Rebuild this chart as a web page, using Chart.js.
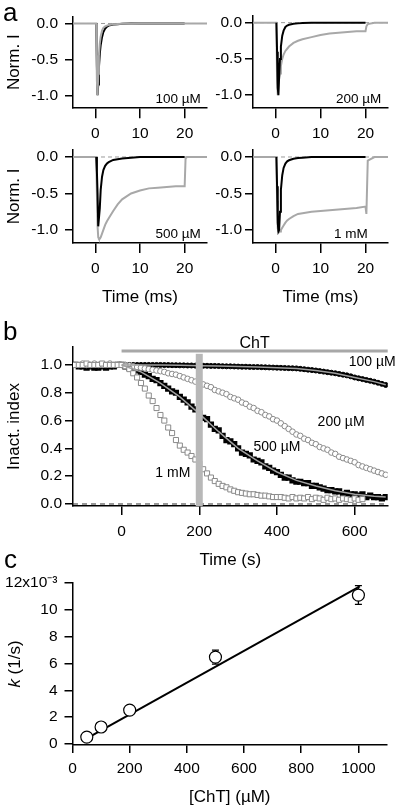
<!DOCTYPE html>
<html>
<head>
<meta charset="utf-8">
<title>ChT inactivation</title>
<script src="https://cdn.jsdelivr.net/npm/chart.js@4.4.1/dist/chart.umd.min.js"></script>
<style>
  html, body { margin: 0; padding: 0; background: #fff; }
  #fig { position: relative; width: 400px; height: 812px; overflow: hidden;
         font-family: 'Liberation Sans', Arial, sans-serif; }
  #fig canvas { position: absolute; }
  .tag { position: absolute; font-size: 26px; line-height: 26px; color: #000; }
</style>
</head>
<body>
<div id="fig">
  <canvas id="a1" width="215" height="150" style="left:0px;top:0px"></canvas>
  <canvas id="a2" width="195" height="150" style="left:205px;top:0px"></canvas>
  <canvas id="a3" width="215" height="187" style="left:0px;top:125px"></canvas>
  <canvas id="a4" width="195" height="187" style="left:205px;top:125px"></canvas>
  <canvas id="b" width="400" height="285" style="left:0px;top:290px"></canvas>
  <canvas id="c" width="400" height="257" style="left:0px;top:555px"></canvas>
  <div class="tag" style="left:3px;top:-1px">a</div>
  <div class="tag" style="left:3px;top:318px">b</div>
  <div class="tag" style="left:4px;top:546px">c</div>
</div>
<script>
// ---- panel a: normalised currents (ms) ----
const traceT = [-5, 0.2, 0.35, 0.5, 0.65, 0.8, 1.0, 1.2, 1.5, 1.8, 2.2, 2.6, 3, 4, 5, 6, 8, 10, 12, 14, 16, 18, 20, 20.2, 20.5, 22, 25];
const black100 = [null, 0, -0.6, -1.0, -0.85, -0.62, -0.42, -0.3, -0.19, -0.12, -0.07, -0.045, -0.03, -0.015, -0.01, -0.005, 0, 0, 0, 0, 0, 0, 0, null, null, null, null];
const gray100 = [0, 0, -0.8, -1.0, -0.7, -0.45, -0.28, -0.18, -0.1, -0.06, -0.04, -0.03, -0.02, -0.012, -0.008, -0.005, -0.003, 0, 0, 0, 0, 0, 0, 0, 0, 0, 0];
const black200 = [null, 0, -0.4, -0.9, -1.0, -0.75, -0.5, -0.33, -0.18, -0.11, -0.06, -0.04, -0.03, -0.015, -0.01, -0.005, 0, 0, 0, 0, 0, 0, 0, null, null, null, null];
const gray200 = [0, 0, -0.8, -1.0, -0.85, -0.78, -0.7, -0.6, -0.5, -0.44, -0.39, -0.36, -0.33, -0.28, -0.25, -0.23, -0.2, -0.17, -0.15, -0.14, -0.13, -0.12, -0.12, -0.05, -0.02, 0, 0];
const black500 = [null, 0, -0.2, -0.5, -0.95, -0.95, -0.7, -0.45, -0.27, -0.18, -0.12, -0.09, -0.07, -0.04, -0.03, -0.02, -0.01, 0, 0, 0, 0, 0, 0, null, null, null, null];
const gray500 = [0, 0, -0.5, -0.95, -1.1, -1.12, -1.12, -1.1, -1.05, -1.0, -0.93, -0.88, -0.84, -0.74, -0.65, -0.58, -0.5, -0.46, -0.43, -0.42, -0.41, -0.40, -0.40, -0.02, 0, 0, 0];
const black1mM = [null, 0, -0.4, -0.9, -1.02, -1.0, -0.75, -0.45, -0.25, -0.15, -0.09, -0.06, -0.045, -0.025, -0.015, -0.01, 0, 0, 0, 0, 0, 0, 0, null, null, null, null];
const gray1mM = [0, 0, -0.6, -0.98, -1.02, -1.03, -1.02, -1.0, -0.97, -0.94, -0.9, -0.87, -0.85, -0.81, -0.78, -0.77, -0.75, -0.74, -0.73, -0.72, -0.71, -0.70, -0.68, -0.78, -0.05, 0, 0];
const concLabels = ['100 µM', '200 µM', '500 µM', '1 mM'];
const currentTicks = [-1.0, -0.5, 0];
const msTicks = [0, 10, 20];

// ---- panel b: inactivation index vs time (s) ----
const timeS = [-120, -110, -100, -90, -80, -70, -60, -50, -40, -30, -20, -10, 0,
  10, 20, 30, 40, 50, 60, 70, 80, 90, 100,
  110, 120, 130, 140, 150, 160, 170, 180, 190, 200,
  210, 220, 230, 240, 250, 260, 270, 280, 290, 300,
  310, 320, 330, 340, 350, 360, 370, 380, 390, 400,
  410, 420, 430, 440, 450, 460, 470, 480, 490, 500,
  510, 520, 530, 540, 550, 560, 570, 580, 590, 600,
  610, 620, 630, 640, 650, 660, 670, 680];
const inact100 = [1.0, 1.0, 1.0, 1.0, 1.0, 1.0, 1.0, 1.0, 1.0, 1.0, 1.0, 1.0, 1.0,
  1.0, 1.0, 1.0, 1.0, 1.0, 1.0, 1.0, 1.0, 1.0, 1.0,
  0.999, 0.999, 0.998, 0.998, 0.997, 0.997, 0.996, 0.996, 0.995, 0.995,
  0.994, 0.994, 0.993, 0.993, 0.992, 0.991, 0.99, 0.99, 0.989, 0.988,
  0.987, 0.987, 0.986, 0.985, 0.985, 0.984, 0.983, 0.982, 0.981, 0.98,
  0.979, 0.978, 0.977, 0.976, 0.975, 0.972, 0.969, 0.966, 0.963, 0.96,
  0.956, 0.952, 0.948, 0.944, 0.94, 0.935, 0.93, 0.925, 0.918, 0.91,
  0.904, 0.898, 0.892, 0.886, 0.88, 0.872, 0.864, 0.856];
const inact200 = [1.0, 1.0, 1.01, 1.0, 1.0, 1.01, 1.0, 1.0, 1.0, 1.01, 1.0, 1.0, 1.0,
  1.0, 0.995, 0.99, 0.985, 0.98, 0.975, 0.97, 0.965, 0.96, 0.955,
  0.95, 0.94, 0.935, 0.93, 0.92, 0.91, 0.90, 0.89, 0.88, 0.87,
  0.86, 0.85, 0.84, 0.82, 0.81, 0.80, 0.79, 0.77, 0.76, 0.75,
  0.73, 0.72, 0.70, 0.69, 0.67, 0.66, 0.64, 0.63, 0.61, 0.60,
  0.58, 0.56, 0.54, 0.52, 0.50, 0.49, 0.47, 0.46, 0.44, 0.43,
  0.41, 0.40, 0.39, 0.37, 0.36, 0.34, 0.33, 0.32, 0.31, 0.30,
  0.28, 0.27, 0.26, 0.25, 0.24, 0.23, 0.22, 0.21];
const inact500 = [1.0, 0.99, 0.99, 0.98, 0.99, 0.98, 0.98, 0.99, 0.98, 0.99, 0.99, 1.0, 1.0,
  0.99, 0.98, 0.97, 0.96, 0.95, 0.93, 0.92, 0.90, 0.89, 0.87,
  0.85, 0.83, 0.81, 0.80, 0.77, 0.75, 0.73, 0.70, 0.68, 0.65,
  0.62, 0.61, 0.57, 0.54, 0.53, 0.49, 0.46, 0.45, 0.43, 0.40,
  0.37, 0.36, 0.35, 0.32, 0.31, 0.30, 0.27, 0.26, 0.24, 0.23,
  0.21, 0.19, 0.19, 0.17, 0.16, 0.16, 0.15, 0.15, 0.13, 0.13,
  0.12, 0.11, 0.10, 0.10, 0.09, 0.09, 0.07, 0.08, 0.07, 0.07,
  0.06, 0.07, 0.05, 0.06, 0.05, 0.05, 0.04, 0.05];
const inact1mM = [1.0, 1.0, 1.0, 1.01, 1.0, 1.0, 1.0, 1.01, 1.0, 1.0, 1.0, 1.0, 1.0,
  0.99, 0.97, 0.94, 0.91, 0.87, 0.83, 0.78, 0.74, 0.69, 0.64,
  0.60, 0.55, 0.51, 0.46, 0.42, 0.39, 0.37, 0.345, 0.32, 0.29,
  0.25, 0.22, 0.19, 0.165, 0.145, 0.13, 0.12, 0.105, 0.095, 0.085,
  0.08, 0.075, 0.07, 0.07, 0.065, 0.06, 0.06, 0.055, 0.05, 0.05,
  0.05, 0.045, 0.04, 0.05, 0.04, 0.045, 0.04, 0.05, 0.035, 0.045,
  0.04, 0.03, 0.045, 0.035, 0.04, 0.03, 0.04, 0.035, 0.03, 0.04,
  0.03, 0.035, null, null, null, null, null, null];
const fitTimeS = [0, 50, 100, 150, 200, 250, 300, 350, 400, 450, 500, 550, 600, 650, 680];
const fit100 = [1.0, 1.0, 1.0, 0.997, 0.995, 0.992, 0.988, 0.985, 0.98, 0.975, 0.96, 0.94, 0.91, 0.88, 0.858];
const fit500 = [1.0, 0.95, 0.87, 0.77, 0.65, 0.52, 0.40, 0.31, 0.23, 0.17, 0.13, 0.095, 0.07, 0.055, 0.05];
const inactTicks = [0, 0.2, 0.4, 0.6, 0.8, 1.0];
const sTicks = [0, 200, 400, 600];
const chtStart = 0;      // ChT application (s)
const chtLevel = 1.10;   // height of the ChT bar
const markTime = 200;    // time of the traces shown in a

// ---- panel c: rate constant vs [ChT] ----
const chtConc = [50, 100, 200, 500, 1000];
const kRate = [0.52, 1.27, 2.53, 6.48, 11.1];     // x10^-3 1/s
const kErr = [0.1, 0.15, 0.2, 0.52, 0.7];
const fitConc = [50, 1005];
const fitK = [0.43, 11.75];
const kTicks = [0, 2, 4, 6, 8, 10, 12];
const concTicks = [0, 200, 400, 600, 800, 1000];

const FONT = "'Liberation Sans', Arial, sans-serif";
Chart.defaults.font.family = FONT;
Chart.defaults.color = '#000';

const pts = (xs, ys) => xs.map((x, i) => ({ x: x, y: ys[i] })).filter(p => p.y !== null);

function axis(o) {
  return {
    type: 'linear',
    min: o.min,
    max: o.max,
    afterBuildTicks: s => { s.ticks = o.ticks.map(v => ({ value: v })); },
    afterFit: s => { if (s.isHorizontal()) s.height = o.size; else s.width = o.size; },
    ticks: { font: { size: 15.5 }, color: '#000', padding: o.pad, autoSkip: false, maxRotation: 0,
             callback: o.fmt || (v => String(v)) },
    grid: { display: true, drawOnChartArea: false, drawTicks: true, tickLength: o.tick,
            color: '#000', lineWidth: 1.5 },
    border: { display: true, color: '#000', width: 1.5 },
    title: { display: !!o.title, text: o.title || '', font: { size: 17 }, color: '#000',
             padding: { top: 4, bottom: 4 } }
  };
}

const base = {
  responsive: false, animation: false, devicePixelRatio: 1, events: [],
  plugins: { legend: { display: false }, tooltip: { enabled: false } }
};

// panel a
const panelsA = [
  { id: 'a1', black: black100, gray: gray100, label: concLabels[0], labelT: 23.6, grayTop: true,
    top: 15.4, right: 8, yw: 73, xh: 41.8, ypad: 7, ytitle: 'Norm. I' },
  { id: 'a2', black: black200, gray: gray200, label: concLabels[1], labelT: 23.5,
    top: 15.4, right: 12, yw: 48, xh: 41.8, ypad: 3 },
  { id: 'a3', black: black500, gray: gray500, label: concLabels[2], labelT: 23.6,
    top: 24.7, right: 8, yw: 73, xh: 68.9, ypad: 7, ytitle: 'Norm. I', xtitle: 'Time (ms)' },
  { id: 'a4', black: black1mM, gray: gray1mM, label: concLabels[3], labelT: 20.5,
    top: 24.7, right: 12, yw: 48, xh: 68.9, ypad: 3, xtitle: 'Time (ms)' }
];

panelsA.forEach(p => {
  const blackSet = { data: pts(traceT, p.black), borderColor: '#000', borderWidth: 2, pointRadius: 0, showLine: true };
  const graySet = { data: pts(traceT, p.gray), borderColor: '#a8a8a8', borderWidth: 2, pointRadius: 0, showLine: true };
  new Chart(document.getElementById(p.id), {
    type: 'scatter',
    data: { datasets: p.grayTop ? [graySet, blackSet] : [blackSet, graySet] },
    options: Object.assign({}, base, {
      layout: { padding: { left: 0, top: p.top, right: p.right, bottom: 0 } },
      scales: {
        x: axis({ min: -5, max: 25, ticks: msTicks, size: p.xh, tick: 10, pad: 6, title: p.xtitle }),
        y: axis({ min: -1.18, max: 0.1, ticks: currentTicks, size: p.yw, tick: 8, pad: p.ypad,
                  fmt: v => v.toFixed(1), title: p.ytitle })
      }
    }),
    plugins: [{
      id: 'traceDecor',
      beforeDatasetsDraw(chart) {
        const { ctx, chartArea: a, scales: { y } } = chart;
        const py = y.getPixelForValue(0);
        ctx.save();
        ctx.strokeStyle = '#9a9a9a'; ctx.lineWidth = 1; ctx.setLineDash([4, 3]);
        ctx.beginPath(); ctx.moveTo(a.left, py); ctx.lineTo(a.right, py); ctx.stroke();
        ctx.restore();
      },
      afterDatasetsDraw(chart) {
        const { ctx, scales: { x, y } } = chart;
        ctx.save();
        ctx.font = '13.5px ' + FONT;
        ctx.fillStyle = '#000'; ctx.textAlign = 'right'; ctx.textBaseline = 'middle';
        ctx.fillText(p.label, x.getPixelForValue(p.labelT), y.getPixelForValue(-1.06));
        ctx.restore();
      }
    }]
  });
});

// panel b
const bLabels = [
  { text: concLabels[0], t: 645, v: 1.02 },
  { text: concLabels[1], t: 565, v: 0.59 },
  { text: concLabels[2], t: 400, v: 0.41 },
  { text: concLabels[3], t: 132, v: 0.22 }
];

new Chart(document.getElementById('b'), {
  type: 'scatter',
  data: {
    datasets: [
      { data: pts(fitTimeS, fit500), showLine: true, borderColor: '#a0a0a0', borderWidth: 1.5, pointRadius: 0 },
      { data: pts(fitTimeS, fit100), showLine: true, borderColor: '#a0a0a0', borderWidth: 1.5, pointRadius: 0 },
      { data: pts(timeS, inact1mM), pointStyle: 'rect', pointRadius: 3.6, backgroundColor: '#fff', borderColor: '#8a8a8a', borderWidth: 1 },
      { data: pts(timeS, inact200), pointStyle: 'circle', pointRadius: 2.8, backgroundColor: '#fff', borderColor: '#8a8a8a', borderWidth: 1 },
      { data: pts(timeS, inact100), pointStyle: 'circle', pointRadius: 2.5, backgroundColor: '#000', borderColor: '#000', borderWidth: 1 },
      { data: pts(timeS, inact500), pointStyle: 'rect', pointRadius: 4.4, backgroundColor: '#000', borderColor: '#000', borderWidth: 0 }
    ]
  },
  options: Object.assign({}, base, {
    layout: { padding: { left: 0, top: 57, right: 12.3, bottom: 0 } },
    scales: {
      x: axis({ min: -125, max: 685, ticks: sTicks, size: 69, tick: 9, pad: 7, title: 'Time (s)' }),
      y: axis({ min: -0.0144, max: 1.129, ticks: inactTicks, size: 73, tick: 8, pad: 3,
                fmt: v => v.toFixed(1), title: 'Inact. index' })
    }
  }),
  plugins: [{
    id: 'bDecor',
    beforeDatasetsDraw(chart) {
      const { ctx, chartArea: a, scales: { y } } = chart;
      const py = y.getPixelForValue(0);
      ctx.save();
      ctx.strokeStyle = '#333'; ctx.lineWidth = 1; ctx.setLineDash([5, 4]);
      ctx.beginPath(); ctx.moveTo(a.left, py); ctx.lineTo(a.right, py); ctx.stroke();
      ctx.restore();
    },
    afterDatasetsDraw(chart) {
      const { ctx, chartArea: a, scales: { x, y } } = chart;
      ctx.save();
      // exposure marker at the time shown in a
      const px = x.getPixelForValue(markTime);
      ctx.fillStyle = '#b8b8b8';
      ctx.fillRect(px - 3.5, y.getPixelForValue(1.08), 7, a.bottom - y.getPixelForValue(1.08));
      // ChT application bar
      const x0 = x.getPixelForValue(chtStart), yb = y.getPixelForValue(chtLevel);
      ctx.strokeStyle = '#a8a8a8'; ctx.lineWidth = 3;
      ctx.beginPath(); ctx.moveTo(x0, yb); ctx.lineTo(a.right, yb); ctx.stroke();
      ctx.fillStyle = '#000'; ctx.font = '16px ' + FONT;
      ctx.textAlign = 'center'; ctx.textBaseline = 'alphabetic';
      ctx.fillText('ChT', (x0 + a.right) / 2, yb - 3);
      ctx.font = '14px ' + FONT; ctx.textBaseline = 'middle';
      bLabels.forEach(l => ctx.fillText(l.text, x.getPixelForValue(l.t), y.getPixelForValue(l.v)));
      ctx.restore();
    }
  }]
});

// panel c
new Chart(document.getElementById('c'), {
  type: 'scatter',
  data: {
    datasets: [
      { data: pts(chtConc, kRate), pointStyle: 'circle', pointRadius: 6, backgroundColor: '#fff', borderColor: '#000', borderWidth: 1.2 },
      { data: pts(fitConc, fitK), showLine: true, borderColor: '#000', borderWidth: 2, pointRadius: 0 }
    ]
  },
  options: Object.assign({}, base, {
    layout: { padding: { left: 0, top: 28, right: 13, bottom: 0 } },
    scales: {
      x: axis({ min: 0, max: 1100, ticks: concTicks, size: 67, tick: 8, pad: 6, title: '[ChT] (µM)' }),
      y: axis({ min: -0.07, max: 12, ticks: kTicks, size: 72.5, tick: 8, pad: 7,
                fmt: v => v === 12 ? '12x10⁻³' : String(v) })
    }
  }),
  plugins: [{
    id: 'cDecor',
    beforeDatasetsDraw(chart) {
      const { ctx, scales: { x, y } } = chart;
      ctx.save();
      ctx.strokeStyle = '#000'; ctx.lineWidth = 1.3;
      chtConc.forEach((c, i) => {
        const px = x.getPixelForValue(c);
        const lo = y.getPixelForValue(kRate[i] - kErr[i]);
        const hi = y.getPixelForValue(kRate[i] + kErr[i]);
        ctx.beginPath();
        ctx.moveTo(px, lo); ctx.lineTo(px, hi);
        ctx.moveTo(px - 3.5, lo); ctx.lineTo(px + 3.5, lo);
        ctx.moveTo(px - 3.5, hi); ctx.lineTo(px + 3.5, hi);
        ctx.stroke();
      });
      ctx.restore();
    },
    afterDraw(chart) {
      const { ctx, chartArea: a } = chart;
      ctx.save();
      ctx.translate(15, (a.top + a.bottom) / 2);
      ctx.rotate(-Math.PI / 2);
      ctx.fillStyle = '#000'; ctx.textBaseline = 'middle'; ctx.textAlign = 'left';
      const italic = 'italic 17px ' + FONT, plain = '17px ' + FONT;
      ctx.font = italic; const wk = ctx.measureText('k').width;
      ctx.font = plain; const wr = ctx.measureText(' (1/s)').width;
      const start = -(wk + wr) / 2;
      ctx.font = italic; ctx.fillText('k', start, 0);
      ctx.font = plain; ctx.fillText(' (1/s)', start + wk, 0);
      ctx.restore();
    }
  }]
});
</script>
</body>
</html>
